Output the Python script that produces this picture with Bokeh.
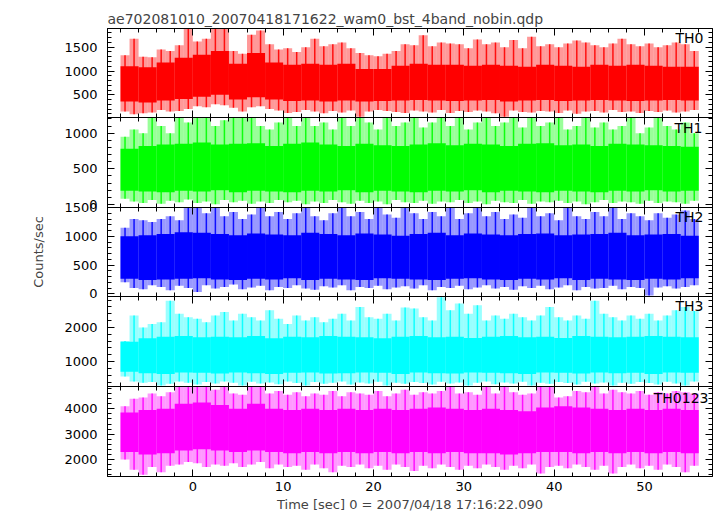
import numpy as np
from bokeh.plotting import figure
from bokeh.layouts import column
from bokeh.models import (Range1d, LinearAxis, Label, SingleIntervalTicker, ColumnDataSource,
                          CustomLabelingPolicy)
from bokeh.embed import file_html
from bokeh.resources import INLINE

TITLE = "ae702081010_20070418171622_wam0_bst_4band_nobin.qdp"
XLABEL = "Time [sec] 0 = 2007/04/18 17:16:22.090"
YLABEL = "Counts/sec"

# time bins (s): spike envelopes in 1 s bins, dense core in 2 s bins, starting at t = -8
T_START = -8.0
SPIKE_BIN = 1.0
CORE_BIN = 2.0

# ---- TH0 ----
th0_hi = [1330, 1680, 1300, 1290, 1450, 1420, 1540, 1890, 1620, 1680, 1890, 1880, 1420, 1360, 1760, 1850,
          1560, 1450, 1480, 1400, 1500, 1680, 1520, 1560, 1600, 1480, 1380, 1330, 1310, 1360, 1420, 1560,
          1540, 1750, 1520, 1600, 1580, 1560, 1480, 1660, 1560, 1600, 1500, 1650, 1480, 1720, 1520, 1560,
          1500, 1580, 1640, 1600, 1540, 1500, 1580, 1680, 1560, 1520, 1580, 1500, 1540, 1600, 1560, 1420]
th0_lo = [150, 90, 110, 130, 180, 150, 160, 200, 260, 240, 300, 280, 230, 150, 240, 260,
          200, 170, 120, 140, 180, 150, 110, 160, 130, 170, 40, 150, 180, 160, 140, 120,
          170, 150, 130, 180, 120, 160, 140, 170, 150, 110, 40, 170, 140, 130, 160, 150,
          120, 170, 100, 150, 160, 130, 180, 140, 150, 120, 160, 140, 170, 130, 150, 180]
th0_core_hi = [1100, 1080, 1180, 1280, 1340, 1420, 1150, 1380, 1180, 1130, 1150, 1130, 1150, 1040, 1040, 1110,
               1150, 1130, 1130, 1110, 1130, 1110, 1090, 1130, 1110, 1090, 1130, 1110, 1130, 1110, 1090, 1090]
th0_core_lo = [360, 340, 380, 410, 460, 500, 400, 450, 400, 370, 380, 360, 380, 360, 370, 380,
               390, 380, 370, 380, 390, 360, 380, 390, 370, 380, 390, 380, 370, 380, 390, 380]

# ---- TH1 ----
th1_hi = [950, 1050, 1000, 1220, 1100, 1000, 1220, 1150, 1220, 1220, 1100, 1180, 1220, 1220, 1220, 1100,
          1050, 1150, 1220, 1100, 1220, 1100, 1150, 1050, 1220, 1100, 1220, 1150, 1050, 1220, 1100, 1150,
          1220, 1080, 1150, 1220, 1100, 1220, 1050, 1150, 1220, 1100, 1150, 1220, 1080, 1220, 1100, 1150,
          1220, 1050, 1100, 1220, 1080, 1150, 1050, 1100, 1220, 1000, 1080, 1220, 1100, 1050, 1150, 1000]
th1_lo = [80, 40, 20, 60, 10, 50, 30, 70, 20, 40, 0, 60, 30, 50, 10, 40,
          20, 60, 30, 50, 0, 40, 20, 60, 30, 10, 50, 20, 40, 0, 60, 30,
          20, 50, 10, 40, 30, 60, 20, 40, 0, 50, 30, 20, 60, 10, 40, 30,
          50, 20, 40, 0, 30, 60, 20, 40, 30, 10, 50, 20, 40, 30, 10, 50]
th1_core_hi = [780, 820, 840, 850, 870, 840, 850, 860, 820, 850, 870, 840, 820, 850, 830, 820,
               840, 860, 830, 850, 840, 820, 850, 860, 830, 840, 820, 850, 840, 830, 820, 810]
th1_core_lo = [190, 180, 170, 190, 180, 200, 170, 190, 180, 170, 190, 180, 200, 170, 190, 180,
               170, 190, 180, 200, 170, 190, 180, 170, 190, 180, 170, 190, 180, 200, 180, 190]

# ---- TH2 ----
th2_hi = [1150, 1300, 1280, 1250, 1300, 1350, 1280, 1500, 1500, 1400, 1500, 1350, 1420, 1300, 1380, 1500,
          1350, 1420, 1300, 1400, 1500, 1350, 1280, 1400, 1500, 1350, 1420, 1300, 1500, 1380, 1320, 1500,
          1400, 1300, 1420, 1350, 1500, 1300, 1400, 1500, 1350, 1420, 1300, 1380, 1320, 1500, 1350, 1400,
          1280, 1500, 1350, 1300, 1420, 1350, 1500, 1300, 1400, 1350, 1280, 1400, 1320, 1380, 1450, 1300]
th2_lo = [200, 100, 80, 150, 120, 60, 140, 100, 30, 150, 90, 120, 160, 80, 110, 140,
          60, 120, 100, 150, 90, 70, 130, 110, 150, 60, 120, 100, 140, 80, 110, 130,
          90, 150, 60, 120, 100, 140, 80, 110, 150, 90, 120, 70, 130, 100, 140, 80,
          110, 150, 60, 120, 90, 100, 140, 80, 120, 100, -30, 110, 130, 90, 120, 150]
th2_core_hi = [1000, 1020, 1040, 1070, 1060, 1040, 1020, 1050, 1030, 1020, 1060, 1040, 1020, 1050, 1030, 1010,
               1040, 1060, 1020, 1050, 1030, 1020, 1040, 1050, 1020, 1030, 1040, 1060, 1020, 1030, 1040, 1010]
th2_core_lo = [260, 240, 250, 260, 270, 250, 240, 260, 250, 270, 240, 260, 250, 240, 270, 260,
               250, 240, 260, 270, 250, 240, 260, 250, 270, 240, 260, 250, 240, 260, 250, 270]

# ---- TH3 ----
th3_hi = [1600, 2350, 2000, 2100, 2150, 2780, 2400, 2300, 2250, 2150, 2350, 2450, 2200, 2400, 2300, 2200,
          2500, 2250, 2100, 2350, 2200, 2300, 2150, 2250, 2400, 2200, 2600, 2300, 2250, 2400, 2200, 2580,
          2550, 2300, 2200, 2880, 2500, 2700, 2400, 2650, 2200, 2350, 2250, 2400, 2300, 2200, 2350, 2600,
          2300, 2200, 2350, 2250, 2780, 2400, 2300, 2200, 2350, 2250, 2400, 2200, 2350, 2500, 2600, 2480]
th3_lo = [560, 420, 380, 400, 300, 350, 420, 380, 330, 400, 360, 420, 380, 300, 410, 360,
          390, 340, 420, 370, 300, 400, 350, 380, 420, 330, 390, 360, 410, 300, 380, 350,
          400, 370, 330, 410, 360, 390, 300, 380, 420, 340, 390, 360, 410, 300, 380, 350,
          400, 370, 330, 410, 360, 390, 300, 380, 350, 400, 370, 330, 410, 360, 300, 420]
th3_core_hi = [1580, 1680, 1730, 1750, 1710, 1730, 1710, 1750, 1680, 1730, 1710, 1750, 1730, 1710, 1680, 1730,
               1750, 1710, 1730, 1690, 1730, 1750, 1710, 1730, 1690, 1750, 1730, 1710, 1730, 1750, 1730, 1710]
th3_core_lo = [700, 660, 640, 680, 670, 650, 680, 660, 640, 670, 680, 650, 660, 680, 670, 640,
               680, 660, 650, 680, 670, 660, 640, 680, 670, 650, 680, 660, 670, 640, 680, 670]

# ---- TH0123 ----
th0123_hi = [4100, 4400, 4450, 4600, 4500, 4650, 4870, 4870, 4870, 4870, 4750, 4870, 4600, 4550, 4870, 4870,
             4600, 4700, 4550, 4650, 4500, 4600, 4550, 4700, 4500, 4650, 4600, 4550, 4700, 4500, 4600, 4750,
             4550, 4650, 4600, 4700, 4870, 4600, 4650, 4550, 4870, 4600, 4870, 4650, 4550, 4600, 4870, 4870,
             4450, 4500, 4700, 4650, 4870, 4600, 4750, 4650, 4600, 4700, 4550, 4650, 4600, 4700, 4650, 4600]
th0123_lo = [2000, 1600, 1400, 1700, 1500, 1750, 1800, 1900, 1850, 1700, 1800, 1750, 1850, 1700, 1800, 1900,
             1650, 1800, 1700, 1750, 1600, 1800, 1650, 1500, 1750, 1700, 1800, 1650, 1750, 1600, 1800, 1700,
             1550, 1750, 1650, 1800, 1700, 1600, 1750, 1650, 1800, 1700, 1600, 1750, 1650, 1800, 1450, 1700,
             1750, 1650, 1800, 1700, 1600, 1750, 1450, 1700, 1800, 1650, 1750, 1600, 1800, 1700, 1500, 1750]
th0123_core_hi = [3850, 3950, 4000, 4200, 4250, 4150, 4000, 4200, 4000, 3950, 4000, 3950, 4000, 3950, 4000, 3950,
                  4000, 4050, 4000, 3950, 4000, 3950, 3900, 4050, 4100, 4050, 4000, 3950, 4000, 3950, 4000, 3950]
th0123_core_lo = [2300, 2200, 2250, 2350, 2400, 2350, 2300, 2350, 2300, 2250, 2300, 2250, 2300, 2250, 2300, 2250,
                  2300, 2250, 2300, 2250, 2250, 2200, 2250, 2300, 2300, 2250, 2300, 2250, 2300, 2250, 2300, 2250]

names = ["TH0", "TH1", "TH2", "TH3", "TH0123"]
colors = ["#ff0000", "#00ff00", "#0000ff", "#00ffff", "#ff00ff"]
y_ranges = [(23, 1893), (-44, 1220), (-47, 1500.3), (271, 2904), (1329, 4880)]
y_major = [500, 500, 500, 1000, 1000]
his = [th0_hi, th1_hi, th2_hi, th3_hi, th0123_hi]
los = [th0_lo, th1_lo, th2_lo, th3_lo, th0123_lo]
core_his = [th0_core_hi, th1_core_hi, th2_core_hi, th3_core_hi, th0123_core_hi]
core_los = [th0_core_lo, th1_core_lo, th2_core_lo, th3_core_lo, th0123_core_lo]

# label placement tweaks (pixels)
name_dx = [-9, -10, -9, -9, -4]
name_dy = [-1, -2, -1, -1, -3]

FONT = "DejaVu Sans"
x_range = Range1d(-9.44, 57.52)

frame_heights = [89, 90, 89, 90, 90]
TOP = 28
BOTTOM = 40
PAD = 10
W = 714
LEFT = 107
RIGHT = 2

no_labels = CustomLabelingPolicy(code="return []")


def style_axis(ax, show_labels):
    ax.major_tick_in = 7
    ax.major_tick_out = 0
    ax.minor_tick_in = 4
    ax.minor_tick_out = 0
    ax.axis_line_color = "black"
    ax.major_tick_line_color = "black"
    ax.minor_tick_line_color = "black"
    if show_labels:
        ax.major_label_text_font = FONT
        ax.major_label_text_font_size = "13px"
        ax.major_label_text_color = "black"
    else:
        ax.major_label_text_font_size = "0px"
        ax.major_label_standoff = 0
        ax.major_label_policy = no_labels


figs = []
for i in range(5):
    first = i == 0
    last = i == 4
    btop = TOP if first else PAD
    bbot = BOTTOM if last else PAD
    h = frame_heights[i] + btop + bbot
    p = figure(width=W, height=h, x_range=x_range, y_range=Range1d(*y_ranges[i]),
               output_backend="svg", toolbar_location=None,
               x_axis_location=None, y_axis_location=None,
               min_border_left=LEFT, min_border_right=RIGHT,
               min_border_top=btop, min_border_bottom=bbot)
    if not first:
        p.margin = (-2 * PAD, 0, 0, 0)
    p.outline_line_color = "black"
    p.outline_line_width = 1
    p.xgrid.visible = False
    p.ygrid.visible = False
    p.background_fill_alpha = 0
    p.border_fill_alpha = 0

    xt = SingleIntervalTicker(interval=10, num_minor_ticks=5)
    yt = SingleIntervalTicker(interval=y_major[i], num_minor_ticks=5)

    left = LinearAxis(ticker=yt)
    style_axis(left, True)
    left.major_label_standoff = 10
    if i == 2:
        left.axis_label = YLABEL
        left.axis_label_text_font = FONT
        left.axis_label_text_font_size = "13px"
        left.axis_label_text_font_style = "normal"
        left.axis_label_standoff = 15
    p.add_layout(left, "left")

    right = LinearAxis(ticker=yt)
    style_axis(right, False)
    p.add_layout(right, "right")

    above = LinearAxis(ticker=xt)
    style_axis(above, False)
    p.add_layout(above, "above")

    below = LinearAxis(ticker=xt)
    style_axis(below, last)
    if last:
        below.major_label_standoff = 5
        below.axis_label = XLABEL
        below.axis_label_text_font = FONT
        below.axis_label_text_font_size = "13px"
        below.axis_label_text_font_style = "normal"
        below.axis_label_standoff = 3
    p.add_layout(below, "below")

    hi = np.array(his[i], dtype=float)
    lo = np.array(los[i], dtype=float)
    t = T_START + SPIKE_BIN * np.arange(len(hi))
    src = ColumnDataSource(dict(left=t, right=t + SPIKE_BIN, top=hi, bottom=lo,
                                mid=t + 0.5 * SPIKE_BIN))
    # light envelope of the spikes in each bin
    p.quad(left="left", right="right", top="top", bottom="bottom", source=src,
           fill_color=colors[i], fill_alpha=0.4, line_color=None)
    # the extreme spike of each bin
    p.segment(x0="mid", y0="bottom", x1="mid", y1="top", source=src,
              line_color=colors[i], line_width=1.5, line_alpha=0.9)

    chi = np.array(core_his[i], dtype=float)
    clo = np.array(core_los[i], dtype=float)
    tc = T_START + CORE_BIN * np.arange(len(chi))
    csrc = ColumnDataSource(dict(left=tc, right=tc + CORE_BIN, top=chi, bottom=clo))
    p.quad(left="left", right="right", top="top", bottom="bottom", source=csrc,
           fill_color=colors[i], fill_alpha=1.0, line_color=None)

    p.add_layout(Label(x=x_range.end, y=y_ranges[i][1], x_offset=name_dx[i], y_offset=name_dy[i],
                       text=names[i], text_align="right", text_baseline="top",
                       text_font=FONT, text_font_size="14px", text_color="black"))

    if first:
        p.title.text = TITLE
        p.title.text_font = FONT
        p.title.text_font_size = "14px"
        p.title.text_font_style = "normal"
        p.title.align = "left"
        p.title.standoff = 4
    figs.append(p)

layout = column(*figs, spacing=0)
open("out.html", "w").write(file_html(layout, INLINE))
